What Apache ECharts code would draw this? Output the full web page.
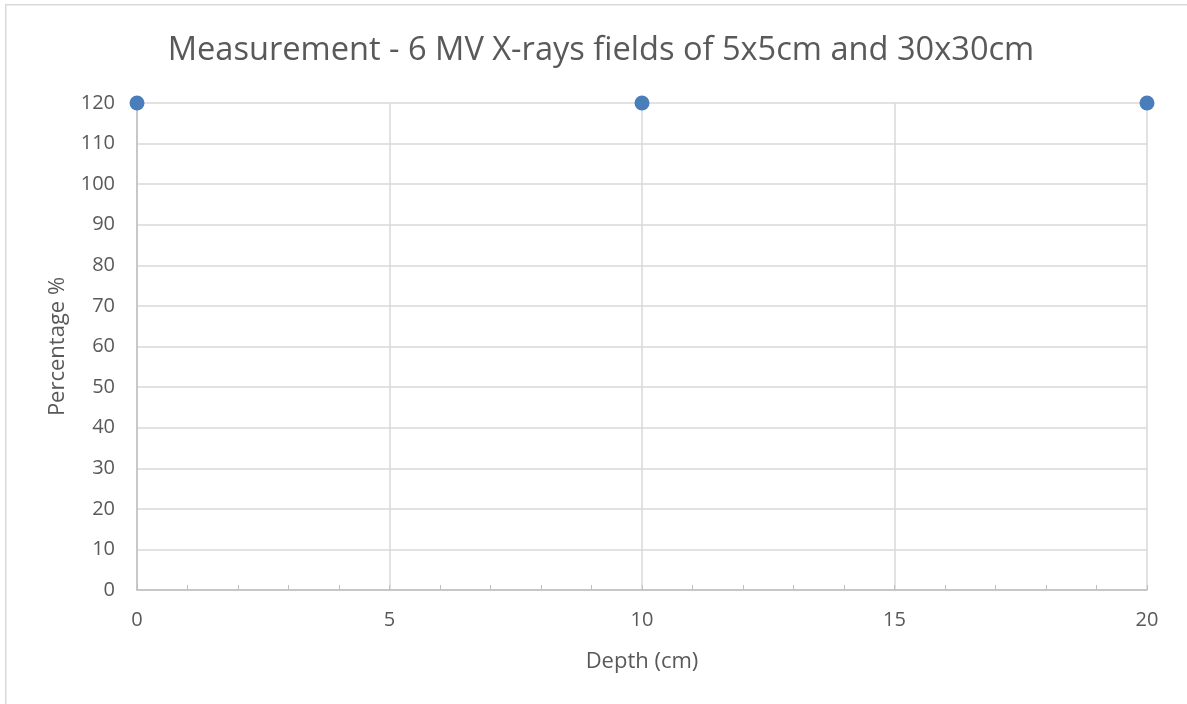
<!DOCTYPE html>
<html>
<head>
<meta charset="utf-8">
<script src="https://cdn.jsdelivr.net/npm/echarts@6/dist/echarts.min.js"></script>
<style>html,body{margin:0;padding:0;background:#fff}#c{width:1187px;height:704px}</style>
</head>
<body>
<div id="c"></div>
<script>
const titleText = 'Measurement - 6 MV X-rays fields of 5x5cm and 30x30cm';
const xName = 'Depth (cm)';
const yName = 'Percentage %';
const depths = [0, 10, 20];
const percentages = [120, 120, 120];

const FONT = '"Open Sans", "Liberation Sans", sans-serif';
const chart = echarts.init(document.getElementById('c'), null, {renderer: 'canvas'});
chart.setOption({
  animation: false,
  backgroundColor: '#fff',
  graphic: [{
    type: 'rect', left: 5, top: 4, z: -10,
    shape: {width: 1250, height: 760},
    style: {fill: '#fff', stroke: '#d9d9d9', lineWidth: 1.5}
  }],
  title: {
    text: titleText, left: 596, top: 29, textAlign: 'center',
    textStyle: {fontFamily: FONT, fontSize: 32.6, fontWeight: 'normal', color: '#595959'}
  },
  grid: {left: 137, right: 40, top: 103, bottom: 114, containLabel: false},
  xAxis: {
    type: 'value', min: 0, max: 20, interval: 5,
    name: xName, nameLocation: 'middle', nameGap: 61,
    nameTextStyle: {fontFamily: FONT, fontSize: 22, color: '#595959'},
    axisLine: {show: true, lineStyle: {color: '#bfbfbf', width: 1.5}},
    axisTick: {show: true, inside: true, length: 5, lineStyle: {color: '#bfbfbf'}},
    minorTick: {show: true, splitNumber: 5, length: 5, lineStyle: {color: '#bfbfbf'}},
    axisLabel: {fontFamily: FONT, fontSize: 20, color: '#595959', margin: 20},
    splitLine: {show: true, lineStyle: {color: '#d9d9d9', width: 1.5}}
  },
  yAxis: {
    type: 'value', min: 0, max: 120, interval: 10,
    name: yName, nameLocation: 'middle', nameGap: 68, nameRotate: 90,
    nameTextStyle: {fontFamily: FONT, fontSize: 22, color: '#595959'},
    axisLine: {show: true, lineStyle: {color: '#bfbfbf', width: 1.5}},
    axisTick: {show: false},
    axisLabel: {fontFamily: FONT, fontSize: 20, color: '#595959', margin: 22},
    splitLine: {show: true, lineStyle: {color: '#d9d9d9', width: 1.5}}
  },
  series: [{
    type: 'scatter',
    data: depths.map((d, i) => [d, percentages[i]]),
    symbol: 'circle', symbolSize: 15,
    itemStyle: {color: '#4a7ebb', opacity: 1},
    clip: false
  }]
});
</script>
</body>
</html>
